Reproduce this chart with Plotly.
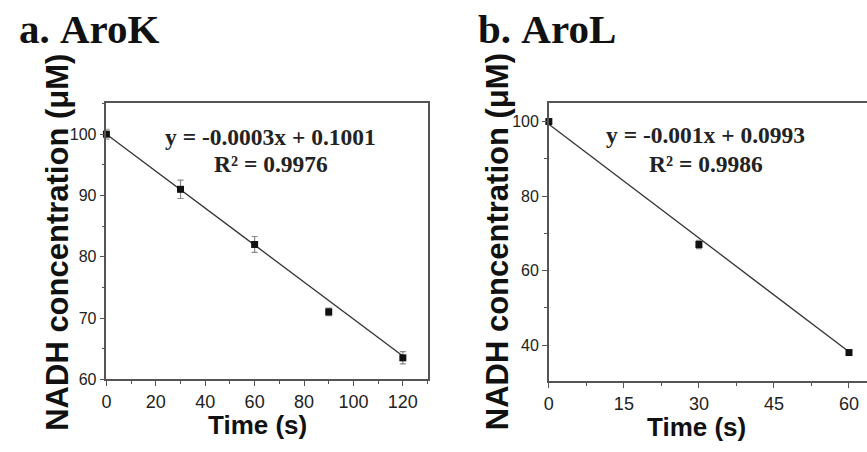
import plotly.graph_objects as go

# ---- data ----
arok_time = [0, 30, 60, 90, 120]
arok_nadh = [100, 91, 82, 71, 63.5]
arok_err = [0.8, 1.5, 1.3, 0.6, 1.0]
arok_fit_x = [0, 120]
arok_fit_y = [100, 63.8]

arol_time = [0, 30, 60]
arol_nadh = [100, 67, 38]
arol_err = [0.6, 1.1, 0.6]
arol_fit_x = [0, 60]
arol_fit_y = [99.3, 38.2]

arok_ticks = [0, 20, 40, 60, 80, 100, 120]
arol_ticks = [0, 15, 30, 45, 60]

W, H = 867, 452
SANS = "Liberation Sans, Arial, sans-serif"
SERIF = "Liberation Serif, Times New Roman, serif"
AX = "#555555"

fig = go.Figure()

def add_panel(xs, ys, errs, fx, fy, xa, ya):
    fig.add_trace(go.Scatter(x=fx, y=fy, mode="lines", xaxis=xa, yaxis=ya,
                             line=dict(color="#333333", width=1.3), showlegend=False,
                             hoverinfo="skip"))
    fig.add_trace(go.Scatter(x=xs, y=ys, mode="markers", xaxis=xa, yaxis=ya,
                             marker=dict(symbol="square", size=7, color="#111111"),
                             error_y=dict(type="data", array=errs, color="#8a8a8a",
                                          thickness=1.2, width=3),
                             cliponaxis=False, showlegend=False))

add_panel(arok_time, arok_nadh, arok_err, arok_fit_x, arok_fit_y, "x", "y")
add_panel(arol_time, arol_nadh, arol_err, arol_fit_x, arol_fit_y, "x2", "y2")

def px_x(p):
    return p / W

def px_y(p):
    return 1 - p / H

xtickfont = dict(family=SANS, size=18, color="#222222")
ytickfont = dict(family=SANS, size=16, color="#222222")
common_x = dict(showline=True, linecolor=AX, linewidth=1.5, mirror=True, ticks="outside",
                ticklen=5, tickwidth=1.3, tickcolor=AX, showgrid=False, zeroline=False,
                tickfont=xtickfont)
common_y = dict(showline=True, linecolor=AX, linewidth=1.5, ticks="outside",
                ticklen=5, tickwidth=1.3, tickcolor=AX, showgrid=False, zeroline=False,
                tickfont=ytickfont)

fig.update_layout(
    width=W, height=H, margin=dict(l=0, r=0, t=0, b=0),
    paper_bgcolor="white", plot_bgcolor="white",
    xaxis=dict(common_x, domain=[px_x(102), px_x(425)], range=[0, 130],
               tickvals=arok_ticks, anchor="y",
               minor=dict(dtick=10, tick0=0, ticks="outside", ticklen=3, tickcolor=AX)),
    yaxis=dict(common_y, domain=[px_y(387), px_y(105)], range=[60, 105.1], mirror=True,
               dtick=10, anchor="x",
               minor=dict(dtick=5, tick0=0, ticks="outside", ticklen=3, tickcolor=AX)),
    xaxis2=dict(common_x, domain=[px_x(547), 1.0], range=[0, 63.6],
                tickvals=arol_ticks, anchor="y2",
                minor=dict(dtick=7.5, tick0=0, ticks="outside", ticklen=3, tickcolor=AX)),
    yaxis2=dict(common_y, domain=[px_y(389), px_y(105)], range=[30.3, 105], mirror=False,
                dtick=20, anchor="x2",
                minor=dict(dtick=10, tick0=0, ticks="outside", ticklen=3, tickcolor=AX)),
)

ann = []
ann.append(dict(text="<b>a.</b> <b>AroK</b>", x=px_x(12), y=px_y(30), xanchor="left",
                yanchor="middle", font=dict(family=SERIF, size=41, color="#111111")))
ann.append(dict(text="<b>b.</b> <b>AroL</b>", x=px_x(474), y=px_y(30), xanchor="left",
                yanchor="middle", font=dict(family=SERIF, size=41, color="#111111")))
eqfont = dict(family=SERIF, size=23.5, color="#222222")
ann.append(dict(text="<b>y = -0.0003x + 0.1001</b>", x=px_x(267), y=px_y(140), font=eqfont,
                xanchor="center", yanchor="middle"))
ann.append(dict(text="<b>R² = 0.9976</b>", x=px_x(268), y=px_y(167), font=eqfont,
                xanchor="center", yanchor="middle"))
ann.append(dict(text="<b>y = -0.001x + 0.0993</b>", x=px_x(705), y=px_y(138), font=eqfont,
                xanchor="center", yanchor="middle"))
ann.append(dict(text="<b>R² = 0.9986</b>", x=px_x(705), y=px_y(167), font=eqfont,
                xanchor="center", yanchor="middle"))
tfont = dict(family=SANS, size=31, color="#111111")
for cx in (52, 495):
    ann.append(dict(text="<b>NADH concentration (μM)</b>", x=px_x(cx), y=px_y(247),
                    textangle=-90, font=tfont, xanchor="center", yanchor="middle"))
xfont = dict(family=SANS, size=26, color="#111111")
ann.append(dict(text="<b>Time (s)</b>", x=px_x(254), y=px_y(434), font=xfont,
                xanchor="center", yanchor="middle"))
ann.append(dict(text="<b>Time (s)</b>", x=px_x(696), y=px_y(436), font=xfont,
                xanchor="center", yanchor="middle"))

for a in ann:
    a.update(xref="paper", yref="paper", showarrow=False)
fig.update_layout(annotations=ann)

fig.write_html("out.html", config={"displayModeBar": False},
               post_script="document.body.style.margin='0';document.body.style.padding='0';")
